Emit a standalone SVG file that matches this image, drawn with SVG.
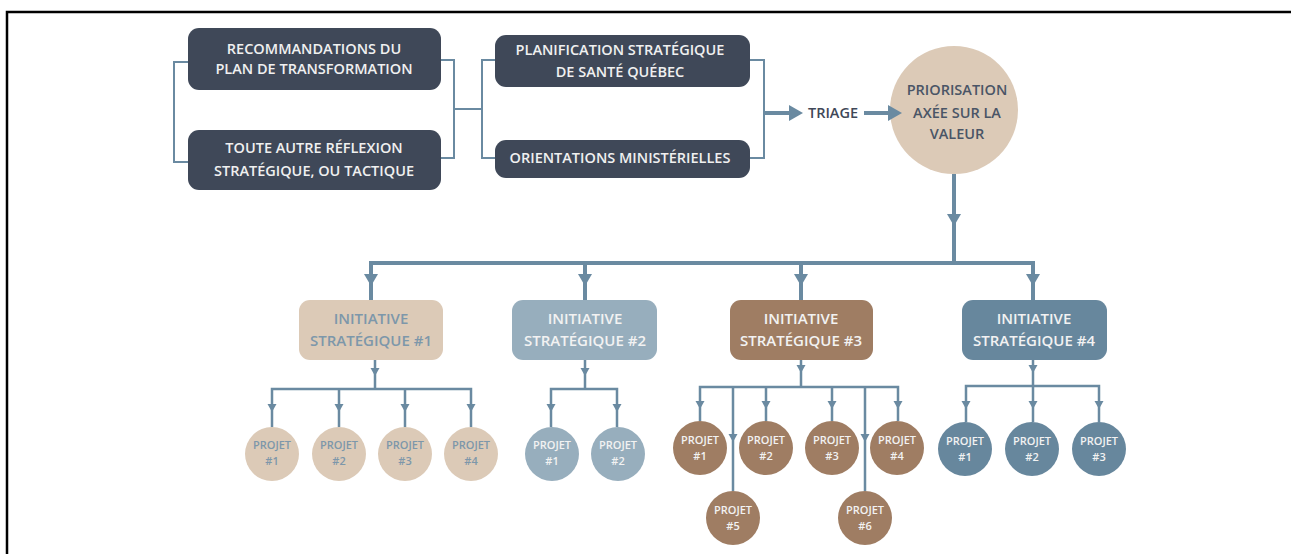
<svg xmlns="http://www.w3.org/2000/svg" xmlns:xlink="http://www.w3.org/1999/xlink" width="1291" height="554" viewBox="0 0 1291 554">
  <style>
    text { font-family: "Open Sans", "Noto Sans", "Liberation Sans", sans-serif; font-weight: 600; text-anchor: middle; }
    .dark { fill: #3f4858; }
    .dark-t { fill: #f0f0f0; font-size: 14.5px; }
    .wire { fill: none; stroke: #6a8aa1; stroke-width: 2; }
    .trunk { fill: none; stroke: #6a8aa1; stroke-width: 4; }
    .branch { fill: none; stroke: #6a8aa1; stroke-width: 2.5; }
    .head { fill: #6a8aa1; }
    .ini-t { font-size: 15px; }
    .prj-t { font-size: 11px; }
    .beige { fill: #dccab7; }
    .sky { fill: #97aebd; }
    .brown { fill: #9f7d63; }
    .steel { fill: #67879d; }
  </style>
  <defs>
    <path id="ah" class="head" d="M-7,-6 L7,-6 L0,6 Z"/>
    <path id="as" class="head" d="M-4.5,-4 L4.5,-4 L0,4 Z"/>
    <path id="ar" class="head" d="M-8,-8 L6,0 L-8,8 Z"/>
  </defs>

  <rect width="1291" height="554" fill="#ffffff"/>
  <!-- frame -->
  <path d="M7,554 V12 H1291" fill="none" stroke="#000" stroke-width="2.5"/>

  <!-- sources -->
  <g id="recommandations">
    <rect class="dark" x="188" y="28" width="253" height="62" rx="11"/>
    <text class="dark-t" x="314" y="54">RECOMMANDATIONS DU</text>
    <text class="dark-t" x="314" y="74">PLAN DE TRANSFORMATION</text>
  </g>
  <g id="reflexion">
    <rect class="dark" x="188" y="130" width="253" height="60" rx="11"/>
    <text class="dark-t" x="314" y="153">TOUTE AUTRE RÉFLEXION</text>
    <text class="dark-t" x="314" y="176">STRATÉGIQUE, OU TACTIQUE</text>
  </g>
  <g id="planification">
    <rect class="dark" x="495" y="35" width="255" height="52" rx="11"/>
    <text class="dark-t" x="620" y="55">PLANIFICATION STRATÉGIQUE</text>
    <text class="dark-t" x="620" y="77">DE SANTÉ QUÉBEC</text>
  </g>
  <g id="orientations">
    <rect class="dark" x="495" y="140" width="255" height="38" rx="11"/>
    <text class="dark-t" x="620" y="163">ORIENTATIONS MINISTÉRIELLES</text>
  </g>

  <g id="triage">
    <text x="833" y="118" font-size="14.5" fill="#3f4858">TRIAGE</text>
  </g>

  <g id="priorisation">
    <circle cx="954" cy="110" r="64" fill="#dccab7"/>
    <text x="957" y="95" font-size="14.5" fill="#4a5566">PRIORISATION</text>
    <text x="957" y="118" font-size="14.5" fill="#4a5566">AXÉE SUR LA</text>
    <text x="957" y="139" font-size="14.5" fill="#4a5566">VALEUR</text>
  </g>

  <!-- initiatives -->
  <g id="initiative-1">
    <rect class="beige" x="299" y="300" width="144" height="60" rx="11"/>
    <text class="ini-t" x="371" y="324" fill="#7d97aa">INITIATIVE</text>
    <text class="ini-t" x="371" y="346" fill="#7d97aa">STRATÉGIQUE #1</text>
  </g>
  <g id="initiative-2">
    <rect class="sky" x="512" y="300" width="145" height="60" rx="11"/>
    <text class="ini-t" x="585" y="324" fill="#f2f2f2">INITIATIVE</text>
    <text class="ini-t" x="585" y="346" fill="#f2f2f2">STRATÉGIQUE #2</text>
  </g>
  <g id="initiative-3">
    <rect class="brown" x="730" y="300" width="143" height="60" rx="11"/>
    <text class="ini-t" x="801" y="324" fill="#f2f2f2">INITIATIVE</text>
    <text class="ini-t" x="801" y="346" fill="#f2f2f2">STRATÉGIQUE #3</text>
  </g>
  <g id="initiative-4">
    <rect class="steel" x="962" y="300" width="145" height="60" rx="11"/>
    <text class="ini-t" x="1034" y="324" fill="#f2f2f2">INITIATIVE</text>
    <text class="ini-t" x="1034" y="346" fill="#f2f2f2">STRATÉGIQUE #4</text>
  </g>

  <!-- projects of initiative 1 -->
  <g id="i1-p1"><circle class="beige" cx="272" cy="454" r="27"/><text class="prj-t" x="272" y="449" fill="#7d97aa">PROJET</text><text class="prj-t" x="272" y="465" fill="#7d97aa">#1</text></g>
  <g id="i1-p2"><circle class="beige" cx="339" cy="454" r="27"/><text class="prj-t" x="339" y="449" fill="#7d97aa">PROJET</text><text class="prj-t" x="339" y="465" fill="#7d97aa">#2</text></g>
  <g id="i1-p3"><circle class="beige" cx="405" cy="454" r="27"/><text class="prj-t" x="405" y="449" fill="#7d97aa">PROJET</text><text class="prj-t" x="405" y="465" fill="#7d97aa">#3</text></g>
  <g id="i1-p4"><circle class="beige" cx="471" cy="454" r="27"/><text class="prj-t" x="471" y="449" fill="#7d97aa">PROJET</text><text class="prj-t" x="471" y="465" fill="#7d97aa">#4</text></g>

  <!-- projects of initiative 2 -->
  <g id="i2-p1"><circle class="sky" cx="552" cy="454" r="27"/><text class="prj-t" x="552" y="449" fill="#f2f2f2">PROJET</text><text class="prj-t" x="552" y="465" fill="#f2f2f2">#1</text></g>
  <g id="i2-p2"><circle class="sky" cx="618" cy="454" r="27"/><text class="prj-t" x="618" y="449" fill="#f2f2f2">PROJET</text><text class="prj-t" x="618" y="465" fill="#f2f2f2">#2</text></g>

  <!-- projects of initiative 3 -->
  <g id="i3-p1"><circle class="brown" cx="700" cy="448" r="27"/><text class="prj-t" x="700" y="444" fill="#f2f2f2">PROJET</text><text class="prj-t" x="700" y="460" fill="#f2f2f2">#1</text></g>
  <g id="i3-p2"><circle class="brown" cx="766" cy="448" r="27"/><text class="prj-t" x="766" y="444" fill="#f2f2f2">PROJET</text><text class="prj-t" x="766" y="460" fill="#f2f2f2">#2</text></g>
  <g id="i3-p3"><circle class="brown" cx="832" cy="448" r="27"/><text class="prj-t" x="832" y="444" fill="#f2f2f2">PROJET</text><text class="prj-t" x="832" y="460" fill="#f2f2f2">#3</text></g>
  <g id="i3-p4"><circle class="brown" cx="897" cy="448" r="27"/><text class="prj-t" x="897" y="444" fill="#f2f2f2">PROJET</text><text class="prj-t" x="897" y="460" fill="#f2f2f2">#4</text></g>
  <g id="i3-p5"><circle class="brown" cx="733" cy="518" r="27"/><text class="prj-t" x="733" y="514" fill="#f2f2f2">PROJET</text><text class="prj-t" x="733" y="530" fill="#f2f2f2">#5</text></g>
  <g id="i3-p6"><circle class="brown" cx="865" cy="518" r="27"/><text class="prj-t" x="865" y="514" fill="#f2f2f2">PROJET</text><text class="prj-t" x="865" y="530" fill="#f2f2f2">#6</text></g>

  <!-- projects of initiative 4 -->
  <g id="i4-p1"><circle class="steel" cx="965" cy="449" r="27"/><text class="prj-t" x="965" y="445" fill="#f2f2f2">PROJET</text><text class="prj-t" x="965" y="461" fill="#f2f2f2">#1</text></g>
  <g id="i4-p2"><circle class="steel" cx="1032" cy="449" r="27"/><text class="prj-t" x="1032" y="445" fill="#f2f2f2">PROJET</text><text class="prj-t" x="1032" y="461" fill="#f2f2f2">#2</text></g>
  <g id="i4-p3"><circle class="steel" cx="1099" cy="449" r="27"/><text class="prj-t" x="1099" y="445" fill="#f2f2f2">PROJET</text><text class="prj-t" x="1099" y="461" fill="#f2f2f2">#3</text></g>

  <!-- connectors, drawn over the nodes so arrow tips stay visible -->
  <g id="connectors">
    <!-- source brackets -->
    <path class="wire" d="M188,62 H174 V162 H188"/>
    <path class="wire" d="M441,60 H454 V158 H441 M454,109 H482 M495,60 H482 V158 H495"/>
    <path class="wire" d="M750,60 H764 V158 H750"/>
    <!-- to triage and priorisation -->
    <path class="trunk" d="M764,113 H792"/>
    <use href="#ar" x="797" y="113"/>
    <path class="trunk" d="M864,113 H890"/>
    <use href="#ar" x="896" y="113"/>
    <!-- trunk to initiatives -->
    <path class="trunk" d="M954,174 V263 M371,300 V263 H1033 V300 M585,263 V300 M801,263 V300"/>
    <use href="#ah" x="954" y="220"/>
    <use href="#ah" x="371" y="280"/>
    <use href="#ah" x="585" y="280"/>
    <use href="#ah" x="801" y="280"/>
    <use href="#ah" x="1033" y="280"/>

    <!-- initiative 1 -->
    <path class="branch" d="M375,360 V389 M272,427 V389 H471 V427 M339,389 V427 M405,389 V427"/>
    <use href="#as" x="375" y="372"/>
    <use href="#as" x="272" y="408"/>
    <use href="#as" x="339" y="408"/>
    <use href="#as" x="405" y="408"/>
    <use href="#as" x="471" y="408"/>
    <!-- initiative 2 -->
    <path class="branch" d="M585,360 V389 M551,427 V389 H617 V427"/>
    <use href="#as" x="585" y="372"/>
    <use href="#as" x="551" y="408"/>
    <use href="#as" x="617" y="408"/>
    <!-- initiative 3 -->
    <path class="branch" d="M801,360 V387 M700,421 V387 H898 V421 M766,387 V421 M832,387 V421 M733,387 V491 M865,387 V491"/>
    <use href="#as" x="801" y="369"/>
    <use href="#as" x="700" y="405"/>
    <use href="#as" x="766" y="405"/>
    <use href="#as" x="832" y="405"/>
    <use href="#as" x="898" y="405"/>
    <use href="#as" x="733" y="438"/>
    <use href="#as" x="865" y="438"/>
    <!-- initiative 4 -->
    <path class="branch" d="M1033,360 V386 M966,422 V386 H1099 V422 M1033,386 V422"/>
    <use href="#as" x="1033" y="369"/>
    <use href="#as" x="966" y="405"/>
    <use href="#as" x="1033" y="405"/>
    <use href="#as" x="1099" y="405"/>
  </g>
</svg>
